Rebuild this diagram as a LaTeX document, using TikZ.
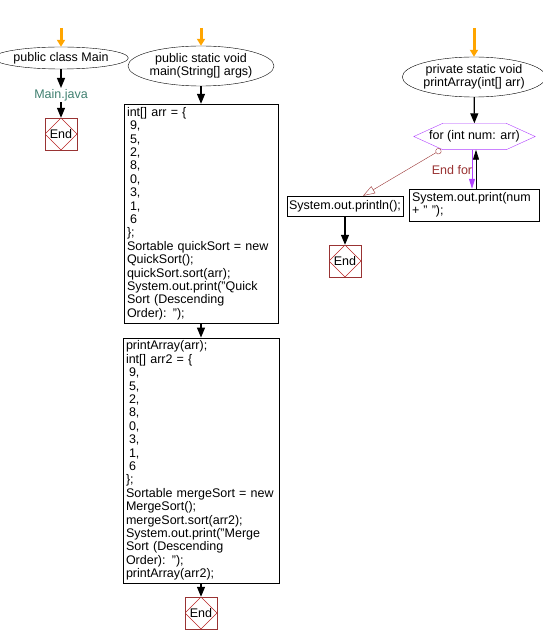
\documentclass[tikz,border=0pt]{standalone}
\usepackage{fontspec}
\setmainfont{Liberation Sans}
\usetikzlibrary{arrows.meta,shapes.geometric}
\definecolor{startorange}{RGB}{255,165,0}
\definecolor{endred}{RGB}{153,51,51}
\definecolor{loopviolet}{RGB}{176,64,255}
\definecolor{fileteal}{RGB}{64,128,112}
\newcommand{\codeindent}{\hspace*{3pt}}

\begin{document}
\begin{tikzpicture}[
    x=1pt, y=-1pt,
    font=\fontsize{12.5}{13.4}\selectfont,
    method/.style={ellipse, draw=black, fill=white, inner sep=0pt, align=center},
    code/.style={rectangle, draw=black, fill=white, align=left, inner sep=3pt},
    loopbox/.style={rectangle, minimum width=121pt, minimum height=26pt, inner sep=0pt},
    loop_line/.style={draw=loopviolet, fill=white},
    endbox/.style={rectangle, draw=endred, minimum size=32pt, inner sep=0pt, path picture={\draw[endred!70!red] (path picture bounding box.north) -- (path picture bounding box.east) -- (path picture bounding box.south) -- (path picture bounding box.west) -- cycle;}},
    file_label/.style={text=fileteal, inner sep=1pt},
    for_label/.style={text=endred, inner sep=1pt},
    arrow/.style={line width=1.2pt, -{Triangle[length=10pt, width=8pt]}},
    start_arrow/.style={line width=3pt, draw=startorange, -{Triangle[length=7pt, width=8pt]}},
    loop_arrow/.style={line width=0.8pt, draw=loopviolet, -{Triangle[length=10pt, width=6pt]}},
    back_arrow/.style={line width=0.8pt, -{Triangle[length=10pt, width=6pt]}},
    exit_arrow/.style={draw=endred, {Circle[open, length=6pt, width=6pt]}-{Triangle[open, length=12pt, width=8pt]}}
]
\useasboundingbox (0, 0) rectangle (542, 644);

% --- Nodes ---
% Left Column (class)
\coordinate (in_class) at (61, 28);
\node (class_main) at (61, 58) [method, minimum width=114pt, minimum height=22pt] {public class Main};
\node (main_java) at (61, 95) [file_label] {Main.java};
\node (end_class) at (61, 134) [endbox] {End};

% Middle Column (main)
\coordinate (in_main) at (201, 28);
\node (main_method) at (201, 66) [method, minimum width=146pt, minimum height=40pt] {public static void\\ main(String[] args)};
\node (quick_block) at (201, 213.5) [code, text width=148pt, minimum height=219pt] {int[] arr = \{\\ \codeindent 9,\\ \codeindent 5,\\ \codeindent 2,\\ \codeindent 8,\\ \codeindent 0,\\ \codeindent 3,\\ \codeindent 1,\\ \codeindent 6\\ \};\\ Sortable quickSort = new\\ QuickSort();\\ quickSort.sort(arr);\\ System.out.print("Quick\\ Sort (Descending\\ Order): ");};
\node (merge_block) at (201, 460.5) [code, text width=150pt, minimum height=245pt] {printArray(arr);\\ int[] arr2 = \{\\ \codeindent 9,\\ \codeindent 5,\\ \codeindent 2,\\ \codeindent 8,\\ \codeindent 0,\\ \codeindent 3,\\ \codeindent 1,\\ \codeindent 6\\ \};\\ Sortable mergeSort = new\\ MergeSort();\\ mergeSort.sort(arr2);\\ System.out.print("Merge\\ Sort (Descending\\ Order): ");\\ printArray(arr2);};
\node (end_main) at (201, 613) [endbox] {End};

% Right Column (printArray)
\coordinate (in_print) at (474, 28);
\node (print_method) at (474, 77) [method, minimum width=114pt, minimum height=40pt] {private static void\\ printArray(int[] arr)};
\node (for_loop) at (474.5, 136.5) [loopbox] {};
\draw [loop_line] (for_loop.west) -- ([xshift=29pt]for_loop.north west) -- ([xshift=-29pt]for_loop.north east) -- (for_loop.east) -- ([xshift=-29pt]for_loop.south east) -- ([xshift=29pt]for_loop.south west) -- cycle;
\node (for_text) at (for_loop) {for (int num: arr)};
\node (print_num) at (474, 205) [code, text width=124pt, minimum height=32pt] {System.out.print(num\\ + " ");};
\node (println) at (345, 206) [code, inner sep=2pt, minimum width=115pt, minimum height=20pt] {System.out.println();};
\node (end_print) at (345, 261) [endbox] {End};
\node (end_for) at (452, 170) [for_label] {End for};

% --- Edges ---
\draw [start_arrow] (in_class) -- (class_main);
\draw [arrow] (class_main) -- (main_java);
\draw [arrow] (main_java) -- (end_class);

\draw [start_arrow] (in_main) -- (main_method);
\draw [arrow] (main_method) -- (quick_block);
\draw [arrow] (quick_block) -- (merge_block);
\draw [arrow] (merge_block) -- (end_main);

\draw [start_arrow] (in_print) -- (print_method);
\draw [arrow] (print_method) -- (for_loop);

% Loop body and exit
\draw [loop_arrow] ([xshift=-2.5pt]for_loop.south) -- ([xshift=-2pt]print_num.north);
\draw [back_arrow] ([xshift=2pt]print_num.north) -- ([xshift=1.5pt]for_loop.south);
\draw [exit_arrow] ([xshift=-33.5pt]for_loop.south) -- ([xshift=18pt]println.north);
\draw [arrow] (println) -- (end_print);

\end{tikzpicture}
\end{document}
